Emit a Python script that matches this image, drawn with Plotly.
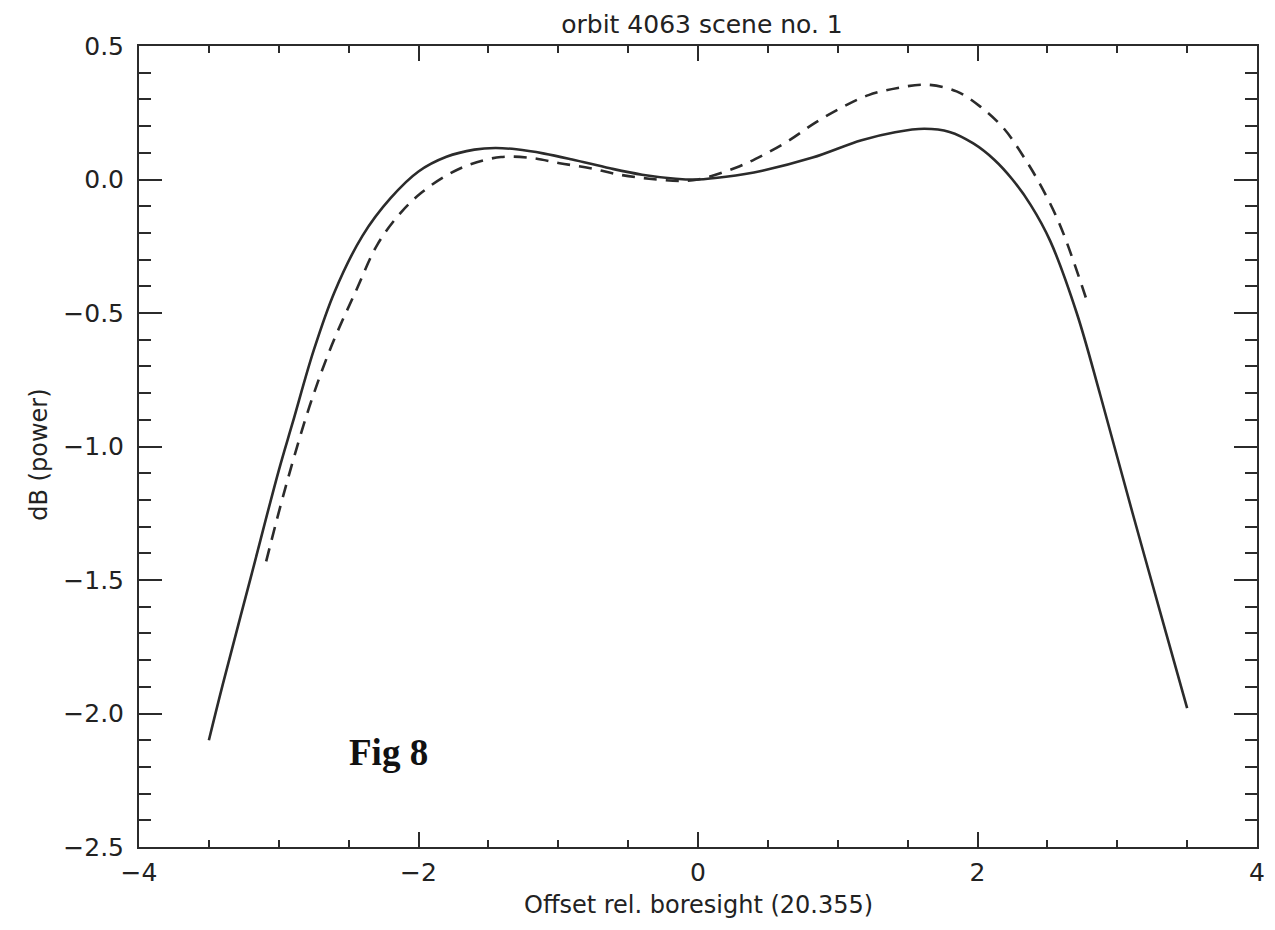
import plotly.graph_objects as go

# Solid curve (x offset, dB)
solid_x = [-3.50, -3.40, -3.20, -3.00, -2.90, -2.75, -2.60, -2.40, -2.20, -2.00,
           -1.80, -1.60, -1.45, -1.30, -1.10, -0.90, -0.63, -0.40, -0.16, 0.00,
           0.20, 0.46, 0.82, 1.17, 1.41, 1.62, 1.80, 1.97, 2.12, 2.25, 2.38, 2.52,
           2.71, 2.88, 3.11, 3.35, 3.50]
solid_y = [-2.10, -1.89, -1.49, -1.09, -0.91, -0.64, -0.42, -0.21, -0.07, 0.03,
           0.085, 0.112, 0.118, 0.113, 0.097, 0.075, 0.042, 0.018, 0.003, 0.00,
           0.01, 0.033, 0.082, 0.147, 0.177, 0.19, 0.178, 0.135, 0.074, 0.0, -0.095, -0.23,
           -0.50, -0.81, -1.25, -1.70, -1.98]

# Dashed curve
dash_x = [-3.09, -2.95, -2.78, -2.62, -2.45, -2.29, -2.12, -1.98, -1.81, -1.63,
          -1.41, -1.20, -0.99, -0.77, -0.56, -0.35, -0.13, 0.00, 0.27, 0.46,
          0.65, 0.84, 1.03, 1.22, 1.43, 1.64, 1.85, 2.02, 2.19, 2.33,
          2.45, 2.59, 2.78]
dash_y = [-1.43, -1.15, -0.85, -0.62, -0.42, -0.24, -0.12, -0.05, 0.012, 0.057,
          0.084, 0.081, 0.061, 0.042, 0.018, 0.003, -0.005, 0.00, 0.044, 0.09,
          0.146, 0.213, 0.27, 0.316, 0.343, 0.355, 0.33, 0.273, 0.19, 0.085,
          -0.02, -0.17, -0.45]

x_ticks = [-4, -2, 0, 2, 4]
y_ticks = [0.5, 0.0, -0.5, -1.0, -1.5, -2.0, -2.5]

ink = "#2b2b2b"
font_main = "DejaVu Sans"

fig = go.Figure()
fig.add_trace(go.Scatter(x=solid_x, y=solid_y, mode="lines",
                         line=dict(color=ink, width=2.6, shape="spline", smoothing=1.0),
                         showlegend=False))
fig.add_trace(go.Scatter(x=dash_x, y=dash_y, mode="lines",
                         line=dict(color=ink, width=2.6, shape="spline", smoothing=1.0,
                                   dash="13px,9px"),
                         showlegend=False))

axis_common = dict(showgrid=False, zeroline=False, showline=True, linecolor=ink,
                   linewidth=2, mirror="allticks", ticks="inside", tickcolor=ink,
                   tickwidth=2, tickfont=dict(family=font_main, size=25, color="#222"))

fig.update_xaxes(range=[-4, 4], tickvals=x_ticks, ticklen=15,
                 minor=dict(dtick=0.5, tick0=0, ticklen=7, ticks="inside",
                            tickcolor=ink, tickwidth=2, showgrid=False),
                 ticklabelstandoff=2, **axis_common)
fig.update_yaxes(range=[-2.5, 0.5], tickvals=y_ticks, tickformat=".1f", ticklen=23,
                 minor=dict(dtick=0.1, tick0=0, ticklen=12, ticks="inside",
                            tickcolor=ink, tickwidth=2, showgrid=False),
                 ticklabelstandoff=8, **axis_common)

fig.update_layout(
    width=1275, height=930,
    margin=dict(l=139, r=10, t=46, b=83),
    paper_bgcolor="white", plot_bgcolor="white",
    title=dict(text="orbit 4063 scene no. 1", x=(702) / 1275, xanchor="center",
               y=1 - 24 / 930, yanchor="middle", yref="container",
               font=dict(family=font_main, size=25, color="#222")),
    annotations=[
        dict(text="Offset rel. boresight (20.355)", xref="paper", yref="paper",
             x=0.5, y=(847 - 905) / 801, xanchor="center", yanchor="middle",
             showarrow=False, font=dict(family=font_main, size=24, color="#222")),
        dict(text="dB (power)", xref="paper", yref="paper",
             x=(38 - 139) / 1126, y=(847 - 455) / 801, xanchor="center", yanchor="middle",
             textangle=-90, showarrow=False,
             font=dict(family=font_main, size=24, color="#222")),
        dict(text="<b>Fig 8</b>", xref="paper", yref="paper",
             x=(390 - 139) / 1126, y=(847 - 752) / 801, xanchor="center", yanchor="middle",
             showarrow=False, font=dict(family="Liberation Serif", size=37, color="#111")),
    ],
)

fig.write_html("out.html")
